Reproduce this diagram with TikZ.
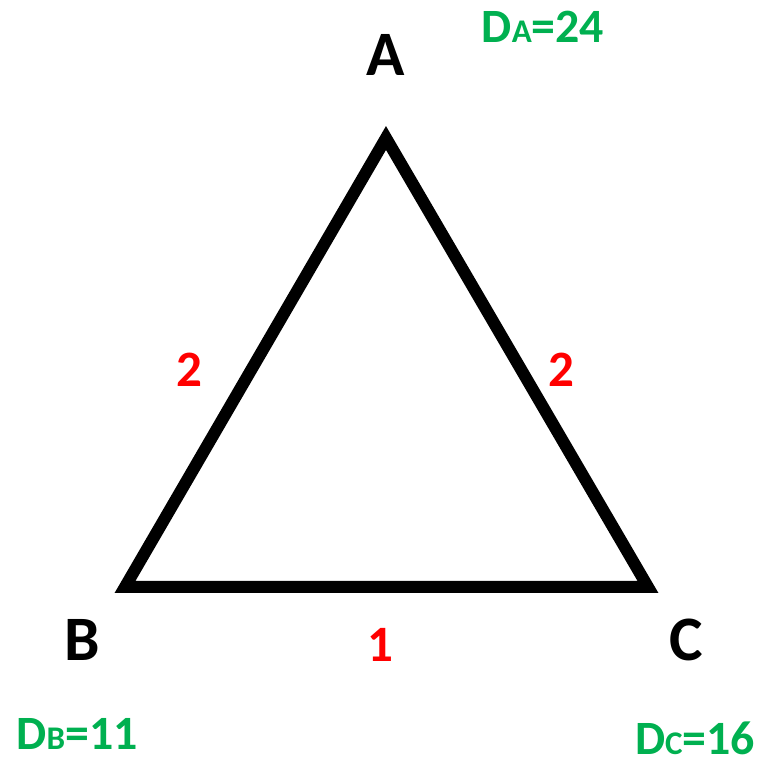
\documentclass[tikz,border=0pt]{standalone}
\usepackage{fontspec}
\setmainfont{Carlito}
\definecolor{distgreen}{RGB}{0,176,80}
\tikzset{
    vertexlabel/.style={font=\bfseries\fontsize{18}{20}\selectfont, text=black, inner sep=0pt},
    weightlabel/.style={font=\bfseries\fontsize{14.5}{16}\selectfont, text=red, inner sep=0pt},
    distlabel/.style={font=\bfseries\fontsize{13.6}{15}\selectfont, text=distgreen, inner sep=0pt},
}
\newcommand{\distsub}[1]{{\fontsize{9.4}{10}\selectfont #1}}
\begin{document}
\begin{tikzpicture}[x=0.01cm, y=-0.01cm]
        % canvas
        \useasboundingbox (0,0) rectangle (759,758);
        % corners of the triangle
        \coordinate (A) at (386,138);
        \coordinate (B) at (125,587);
        \coordinate (C) at (648,587);
        \draw[line width=0.12cm, line join=miter] (A) -- (B) -- (C) -- cycle;
        % vertex names
        \node[vertexlabel] (nameA) at (386,55) {A};
        \node[vertexlabel] (nameB) at (82,640) {B};
        \node[vertexlabel] (nameC) at (686,640) {C};
        % edge weights
        \node[weightlabel] (wAB) at (189,370) {2};
        \node[weightlabel] (wAC) at (561,370) {2};
        \node[weightlabel] (wBC) at (380,645) {1};
        % distances
        \node[distlabel] (dA) at (543,27) {D\distsub{A}=24};
        \node[distlabel] (dB) at (77,734) {D\distsub{B}=11};
        \node[distlabel] (dC) at (695,738) {D\distsub{C}=16};
\end{tikzpicture}
\end{document}
